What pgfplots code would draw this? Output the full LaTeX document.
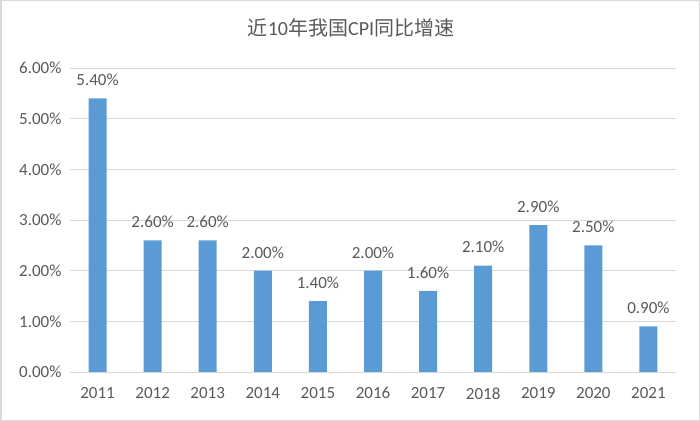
\documentclass[border=0pt]{standalone}
\usepackage{pgfplots}
\pgfplotsset{compat=1.18}
\usepackage{fontspec}
\setmainfont{Carlito}
\newfontfamily\cjk{Noto Sans CJK SC}
\definecolor{barblue}{HTML}{5B9BD5}
\definecolor{txt}{HTML}{595959}
\definecolor{gridc}{HTML}{D9D9D9}
\begin{document}
\begin{tikzpicture}
\useasboundingbox (0,0) rectangle (700bp,421bp);
\draw[draw=gridc, line width=1.5bp] (0.75bp,0.75bp) rectangle (699.25bp,420.25bp);
\node[text=txt, font=\fontsize{20bp}{20bp}\selectfont] at (351bp,393bp) {{\cjk 近}10{\cjk 年我国}CPI{\cjk 同比增速}};
\begin{axis}[
  at={(70bp,49bp)}, anchor=south west,
  scale only axis, width=606bp, height=304bp,
  ybar, bar width=18bp, bar shift=0pt,
  xmin=-0.5, xmax=10.5, ymin=0, ymax=6,
  xtick=data, xticklabels={2011,2012,2013,2014,2015,2016,2017,2018,2019,2020,2021},
  ytick={0,1,2,3,4,5,6},
  yticklabel={\pgfmathprintnumber[fixed,fixed zerofill,precision=2]{\tick}\%},
  /pgf/number format/assume math mode=true,
  ymajorgrids, grid style={draw=gridc, line width=0.8bp},
  axis line style={draw=none},
  major tick length=0pt,
  tick label style={text=txt, font=\fontsize{17bp}{17bp}\selectfont},
  yticklabel style={xshift=-5bp},
  xticklabel style={yshift=-12bp},
  nodes near coords={\pgfmathprintnumber[fixed,fixed zerofill,precision=2]{\pgfplotspointmeta}\%},
  nodes near coords style={text=txt, font=\fontsize{17bp}{17bp}\selectfont, anchor=south, yshift=9bp},
  clip=false,
]
\addplot[fill=barblue, draw=none] coordinates {
 (0,5.4) (1,2.6) (2,2.6) (3,2.0) (4,1.4) (5,2.0) (6,1.6) (7,2.1) (8,2.9) (9,2.5) (10,0.9)
};
\end{axis}
\end{tikzpicture}
\end{document}
